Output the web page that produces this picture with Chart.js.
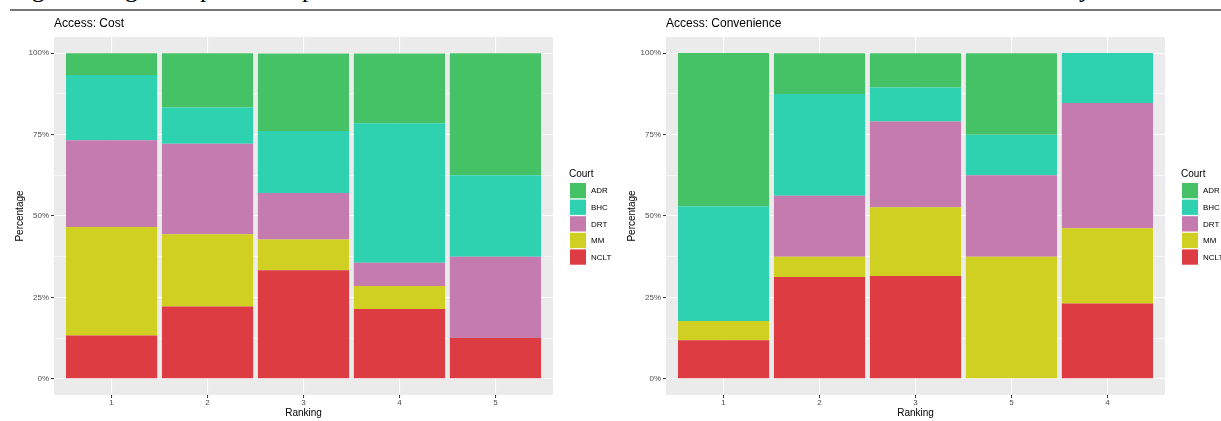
<!DOCTYPE html>
<html>
<head>
<meta charset="utf-8">
<script src="https://cdn.jsdelivr.net/npm/chart.js@4.4.1/dist/chart.umd.min.js"></script>
<style>
  html, body { margin: 0; padding: 0; background: #fff; overflow: hidden; width: 1221px; height: 421px; }
  #page { position: relative; width: 1221px; height: 421px; overflow: hidden; }
  .caption { position: absolute; top: 0; left: 0; width: 1221px; height: 9px; overflow: hidden; }
  .caption span { position: absolute; top: -24px; font-family: "Liberation Serif", serif; font-size: 26px; line-height: 26px; color: #000; white-space: pre; }
  .rule { position: absolute; left: 10px; top: 9px; width: 1211px; height: 2px; background: #777; }
  canvas { position: absolute; top: 0; }
</style>
</head>
<body>
<div id="page">
  <div class="caption">
    <span style="left:10px">Figure</span>
    <span style="left:125px">g</span>
    <span style="left:200px">p</span>
    <span style="left:302px">p</span>
    <span style="left:1079px">y</span>
  </div>
  <div class="rule"></div>
  <canvas id="costChart" width="612" height="421" style="left:0px"></canvas>
  <canvas id="convChart" width="612" height="421" style="left:612px"></canvas>
</div>
<script>
// Court categories (legend order, top of stack first) and their fills
const courts = ['ADR', 'BHC', 'DRT', 'MM', 'NCLT'];
const courtColors = ['#46C266', '#2ED1B0', '#C57BAE', '#CFD021', '#DD3C42'];

// Panel 1: Access: Cost — share of each court per ranking (%)
const costRanking = ['1', '2', '3', '4', '5'];
const costADR  = [6.7, 16.7, 23.8, 21.4, 37.5];
const costBHC  = [20.0, 11.1, 19.0, 42.9, 25.0];
const costDRT  = [26.7, 27.8, 14.3, 7.1, 25.0];
const costMM   = [33.3, 22.2, 9.5, 7.1, 0];
const costNCLT = [13.3, 22.2, 33.3, 21.4, 12.5];

// Panel 2: Access: Convenience — share of each court per ranking (%)
const convRanking = ['1', '2', '3', '5', '4'];
const convADR  = [47.1, 12.5, 10.5, 25.0, 0];
const convBHC  = [35.3, 31.25, 10.5, 12.5, 15.4];
const convDRT  = [0, 18.75, 26.3, 25.0, 38.5];
const convMM   = [5.9, 6.25, 21.1, 37.5, 23.1];
const convNCLT = [11.8, 31.25, 31.6, 0, 23.1];

// Percentage axis: labelled major ticks and unlabelled minor grid lines
const yMajorTicks = [0, 25, 50, 75, 100];
const yMinorTicks = [12.5, 37.5, 62.5, 87.5];

const SANS = '"Liberation Sans", Arial, sans-serif';

// Grey panel background, panel title and the "Court" legend
const panelPlugin = {
  id: 'panel',
  beforeDraw(chart) {
    const { ctx, chartArea: a } = chart;
    ctx.save();
    ctx.fillStyle = '#EBEBEB';
    ctx.fillRect(a.left, a.top, a.right - a.left, a.bottom - a.top);
    ctx.restore();
  },
  afterDraw(chart, args, opts) {
    const { ctx, chartArea: a } = chart;
    ctx.save();
    ctx.fillStyle = '#000';
    ctx.textBaseline = 'alphabetic';
    ctx.textAlign = 'left';
    ctx.font = '12px ' + SANS;
    ctx.fillText(opts.title, a.left, 27);

    const lx = a.right + 16;
    ctx.font = '10px ' + SANS;
    ctx.fillText('Court', lx, 177);
    const keyTop = 183, pitch = 16.6, keySize = 15.3;
    ctx.font = '8px ' + SANS;
    ctx.textBaseline = 'middle';
    courts.forEach((name, i) => {
      const y = keyTop + i * pitch;
      ctx.fillStyle = courtColors[i];
      ctx.fillRect(lx + 1, y, 16, keySize);
      ctx.fillStyle = '#000';
      ctx.fillText(name, lx + 22, y + keySize / 2 + 0.5);
    });
    ctx.restore();
  }
};

function makeDatasets(series) {
  // stack from the bottom: NCLT, MM, DRT, BHC, ADR
  const order = [4, 3, 2, 1, 0];
  return order.map(ci => ({
    label: courts[ci],
    data: series[ci].map((v, i) => ({ x: i + 1, y: v })),
    backgroundColor: courtColors[ci],
    borderWidth: 0,
    barPercentage: 0.95,
    categoryPercentage: 1.0
  }));
}

function makeChart(id, title, rankings, series) {
  return new Chart(document.getElementById(id), {
    type: 'bar',
    data: { datasets: makeDatasets(series) },
    plugins: [panelPlugin],
    options: {
      responsive: false,
      animation: false,
      devicePixelRatio: 1,
      events: [],
      layout: { padding: { left: 0, right: 59, top: 37, bottom: 0 } },
      plugins: {
        legend: { display: false },
        tooltip: { enabled: false },
        panel: { title: title }
      },
      scales: {
        x: {
          type: 'linear',
          min: 0.4,
          max: 5.6,
          stacked: true,
          offset: false,
          afterBuildTicks: s => { s.ticks = rankings.map((r, i) => ({ value: i + 1 })); },
          afterFit: s => { s.height = 26; },
          ticks: {
            autoSkip: false,
            maxRotation: 0,
            padding: 0,
            color: '#4D4D4D',
            font: { family: SANS, size: 8 },
            callback: (v, i) => rankings[i]
          },
          grid: { offset: false, color: '#FFFFFF', lineWidth: 1.1, tickColor: '#333333', tickLength: 3, tickWidth: 1 },
          border: { display: false },
          title: { display: true, text: 'Ranking', color: '#000', font: { family: SANS, size: 10 }, padding: { top: 0, bottom: 2 } }
        },
        y: {
          type: 'linear',
          min: -5,
          max: 105,
          stacked: true,
          afterBuildTicks: s => {
            s.ticks = yMajorTicks.concat(yMinorTicks).sort((p, q) => p - q).map(v => ({ value: v }));
          },
          afterFit: s => { s.width = 54; },
          ticks: {
            padding: 2,
            color: '#4D4D4D',
            font: { family: SANS, size: 8 },
            callback: v => (yMajorTicks.includes(v) ? v + '%' : '')
          },
          grid: {
            color: '#FFFFFF',
            lineWidth: c => (c.tick && yMajorTicks.includes(c.tick.value) ? 1.1 : 0.55),
            tickColor: c => (c.tick && yMajorTicks.includes(c.tick.value) ? '#333333' : 'rgba(0,0,0,0)'),
            tickLength: 3,
            tickWidth: 1
          },
          border: { display: false },
          title: { display: true, text: 'Percentage', color: '#000', font: { family: SANS, size: 10 }, padding: { top: 14, bottom: 0 } }
        }
      }
    }
  });
}

makeChart('costChart', 'Access: Cost', costRanking, [costADR, costBHC, costDRT, costMM, costNCLT]);
makeChart('convChart', 'Access: Convenience', convRanking, [convADR, convBHC, convDRT, convMM, convNCLT]);
</script>
</body>
</html>
